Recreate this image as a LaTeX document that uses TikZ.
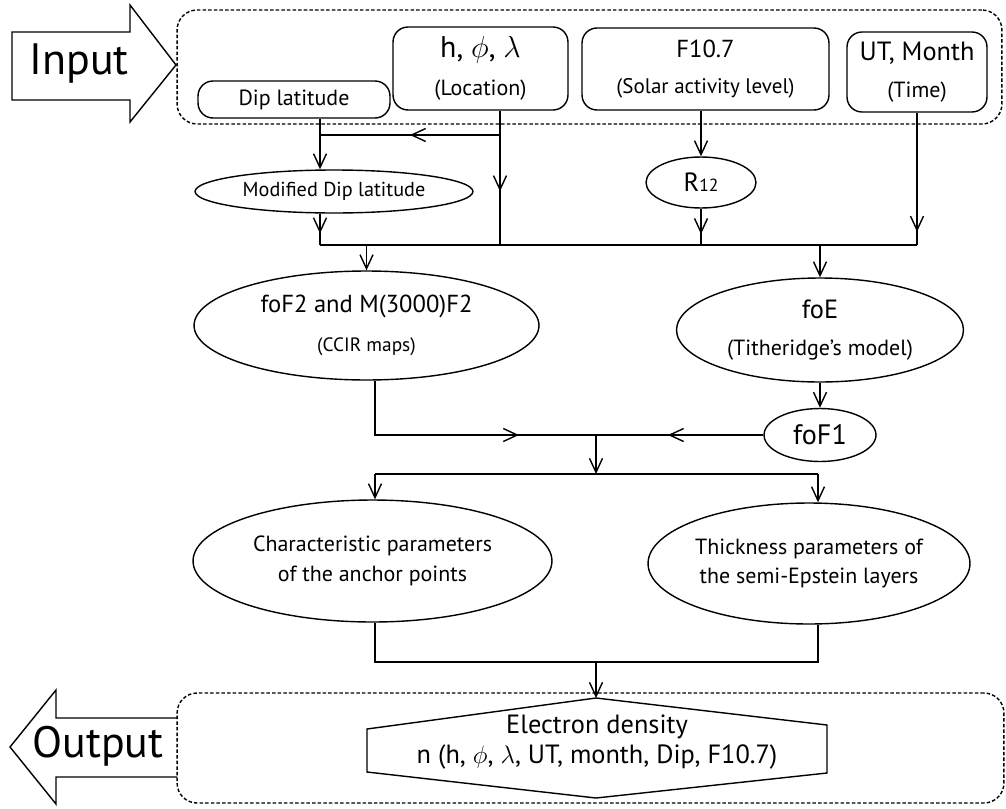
\documentclass[tikz,border=0pt]{standalone}
\usepackage{fontspec}
\setmainfont{PT Sans}
\usetikzlibrary{arrows.meta, positioning, shapes.geometric, decorations.markings}
\tikzset{box/.style = {
  % Rectangle:
  rectangle, draw,
  rounded corners=3mm,
  % Text
  align=center, inner sep=0pt
  }}
\tikzset{oval/.style = {
  % Ellipse:
  ellipse, draw,
  % Text
  align=center, inner sep=0pt
  }}
\tikzset{frame/.style = {
  rectangle, draw,
  dash pattern=on 2pt off 1.2pt,
  rounded corners=4mm
  }}
\tikzset{arrow/.style = {
  -{Straight Barb[length=2.8mm, width=2.6mm]}
  }}
\tikzset{midarrow/.style = {
  decoration={markings,
    mark=at position #1 with {\arrow{Straight Barb[length=2.8mm, width=2.6mm]}}},
  postaction={decorate}
  }}
\newcommand{\fsz}[1]{\fontsize{#1}{#1}\selectfont}

\begin{document}
\begin{tikzpicture}[x=0.02cm, y=-0.02cm, line width=0.8pt]
\useasboundingbox (0,0) rectangle (1006,808);

% FRAMES
\node (inframe) [frame, minimum width=16.5cm, minimum height=2.28cm] at (589.5,67) {};
\node (outframe) [frame, minimum width=16.54cm, minimum height=2.2cm] at (590.5,748) {};

% BIG ARROWS
\draw (12,32) -- (130,32) -- (130,5) -- (176,65) -- (130,122) -- (130,100) -- (12,100) -- cycle;
\node (inlabel) [font=\fsz{25}] at (79,64) {Input};
\draw (177,718) -- (56,718) -- (56,690) -- (10,747) -- (56,804) -- (56,777) -- (177,777);
\node (outlabel) [font=\fsz{25}] at (98,746) {Output};

% INPUT BOXES
\node (dip) [box, minimum width=3.84cm, minimum height=0.74cm, font=\fsz{12.5}] at (294,99.5) {Dip latitude};
\node (loc) [box, minimum width=3.5cm, minimum height=1.66cm, font=\fontsize{12.5}{22}\selectfont] at (480.5,68.5) {{\fsz{17}h, $\phi$, $\lambda$}\\(Location)};
\node (f107) [box, minimum width=4.94cm, minimum height=1.64cm, font=\fontsize{12}{20}\selectfont] at (705.5,69) {{\fsz{14}F10.7}\\(Solar activity level)};
\node (ut) [box, minimum width=2.8cm, minimum height=1.6cm, font=\fontsize{12.5}{21}\selectfont] at (917,72) {{\fsz{15}UT, Month}\\(Time)};

% OVALS
\node (moddip) [oval, minimum width=5.56cm, minimum height=0.86cm, font=\fsz{11.5}] at (334,191.5) {Modified Dip latitude};
\node (r12) [oval, minimum width=2.2cm, minimum height=1.02cm, font=\fsz{15}] at (701,182.5) {R{\fsz{10}12}};
\node (fof2) [oval, minimum width=6.9cm, minimum height=2.18cm, font=\fontsize{11}{22}\selectfont] at (366.5,325.5) {{\fsz{14}foF2 and M(3000)F2}\\(CCIR maps)};
\node (foe) [oval, minimum width=5.74cm, minimum height=2.08cm, font=\fontsize{12.5}{21}\selectfont] at (820,330) {{\fsz{15}foE}\\(Titheridge's model)};
\node (fof1) [oval, minimum width=2.24cm, minimum height=1.06cm, font=\fsz{16}] at (820,435) {foF1};
\node (charp) [oval, minimum width=7.18cm, minimum height=2.44cm, font=\fontsize{12.5}{17}\selectfont] at (372.5,561) {Characteristic parameters\\of the anchor points};
\node (thick) [oval, minimum width=6.44cm, minimum height=2.42cm, font=\fontsize{12.5}{17}\selectfont] at (809,563.5) {Thickness parameters of\\the semi-Epstein layers};

% OUTPUT
\node (edens) [font=\fontsize{15}{17}\selectfont, align=center] at (597,742) {Electron density\\n (h, $\phi$, $\lambda$, UT, month, Dip, F10.7)};
\coordinate (etop) at (596,698);
\coordinate (ebot) at (596,798);
\draw (367,729) -- (etop) -- (827,725) -- (827,773) -- (ebot) -- (367,772) -- cycle;

% JOINS
\coordinate (jdip) at (320,135);
\coordinate (jloc) at (500,135);
\coordinate (row1w) at (320,245);
\coordinate (row1e) at (917,245);
\coordinate (jf) at (596,435);
\coordinate (row2w) at (375,474);
\coordinate (row2e) at (818,474);
\coordinate (row3) at (596,662);

% arrows
\draw (dip.south -| jdip) -- (jdip);
\draw [arrow] (jdip) -- (jdip |- moddip.north);
\draw [midarrow=0.6] (loc.south -| jloc) -- (row1w -| jloc);
\draw [midarrow=0.5] (jloc) -- (jdip);
\draw [midarrow=0.63] (moddip.south -| jdip) -- (row1w);
\draw [arrow] (f107.south -| r12.north) -- (r12.north);
\draw [midarrow=0.7] (r12.south) -- (r12.south |- row1w);
\draw [midarrow=0.9] (ut.south) -- (row1e);
\draw (row1w) -- (row1e);

\draw [arrow] (row1w -| fof2.north) -- (fof2.north);
\draw [arrow] (row1w -| foe.north) -- (foe.north);
\draw [arrow] (foe.south) -- (fof1.north);

\draw [midarrow=0.72] (fof2.south -| row2w) -- (row2w |- jf) -- (jf);
\draw [midarrow=0.57] (fof1.west) -- (jf);
\draw [arrow] (jf) -- (jf |- row2w);
\draw (row2w) -- (row2e);
\draw [arrow] (row2w) -- (row2w |- charp.north);
\draw [arrow] (row2e) -- (row2e |- thick.north);

\draw (charp.south -| row2w) -- (row2w |- row3) -- (row2e |- row3) -- (thick.south -| row2e);
\draw [arrow] (row3) -- (etop);
\end{tikzpicture}
\end{document}
